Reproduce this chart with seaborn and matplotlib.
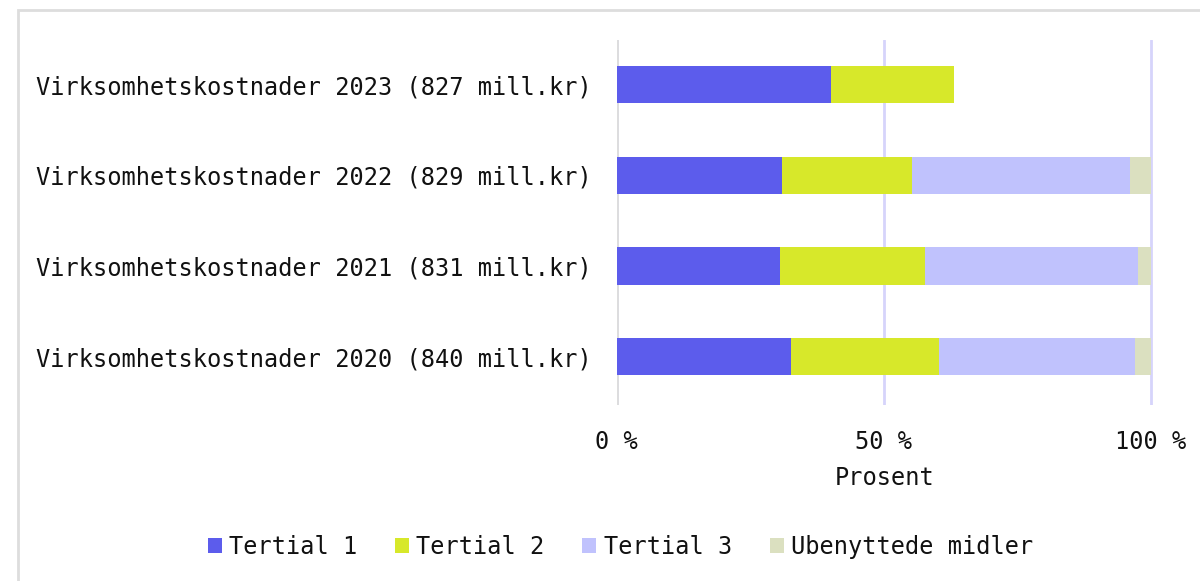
import numpy as np
import pandas as pd
import matplotlib
matplotlib.use("Agg")
import matplotlib.pyplot as plt
from matplotlib.patches import Patch, Rectangle
import seaborn as sns

# Data (percent of yearly budget)
categories = [
    "Virksomhetskostnader 2023 (827 mill.kr)",
    "Virksomhetskostnader 2022 (829 mill.kr)",
    "Virksomhetskostnader 2021 (831 mill.kr)",
    "Virksomhetskostnader 2020 (840 mill.kr)",
]
series_names = ["Tertial 1", "Tertial 2", "Tertial 3", "Ubenyttede midler"]
tertial_1 = [40.2, 31.0, 30.6, 32.6]
tertial_2 = [22.9, 24.3, 27.2, 27.7]
tertial_3 = [0.0, 40.9, 39.9, 36.7]
ubenyttet = [0.0, 3.8, 2.3, 3.0]
x_ticks = [0, 50, 100]
x_tick_labels = ["0 %", "50 %", "100 %"]

colors = ["#5c5cec", "#d7e82a", "#c0c2fd", "#dbe0c0"]

df = pd.DataFrame({
    "kategori": categories,
    "Tertial 1": tertial_1,
    "Tertial 2": tertial_2,
    "Tertial 3": tertial_3,
    "Ubenyttede midler": ubenyttet,
})
cum = df[series_names].cumsum(axis=1)

sns.set_style("white")
plt.rcParams["font.family"] = ["DejaVu Sans Mono", "DejaVu Sans"]
plt.rcParams["text.color"] = "#111111"
plt.rcParams["xtick.color"] = "#111111"
plt.rcParams["ytick.color"] = "#111111"
plt.rcParams["axes.labelcolor"] = "#111111"

fig = plt.figure(figsize=(12, 5.81), dpi=100)
ax = fig.add_axes([0.514, 0.303, 0.447, 0.628])

# stacked bars: draw cumulative totals from the last series to the first
for name, color in reversed(list(zip(series_names, colors))):
    sns.barplot(x=cum[name], y=df["kategori"], orient="h", color=color,
                width=0.41, ax=ax, zorder=3, saturation=1,
                edgecolor="none", linewidth=0)

ax.set_xlim(0, 100.5)
ax.set_ylim(3.53, -0.49)
ax.set_xticks(x_ticks)
ax.set_xticklabels(x_tick_labels)
ax.xaxis.grid(True, color="#d6d4fb", linewidth=2)
ax.axvline(0, color="#dddddd", linewidth=2, zorder=2)
ax.set_axisbelow(True)
for s in ax.spines.values():
    s.set_visible(False)
ax.tick_params(axis="x", length=0, pad=18, labelsize=17)
ax.tick_params(axis="y", length=0, pad=18, labelsize=17)
ax.set_ylabel("")
ax.set_xlabel("Prosent", fontsize=17, labelpad=9)

handles = [Patch(facecolor=c, edgecolor="none") for c in colors]
fig.legend(handles, series_names, loc="center", bbox_to_anchor=(0.517, 0.059),
           ncol=4, frameon=False, fontsize=17, handlelength=0.6,
           handleheight=0.6, handletextpad=0.3, columnspacing=1.6)

# light frame around the chart area
fig.patches.append(Rectangle((18 / 1200, -0.2), 1.2, 1.2 - 10 / 581,
                             transform=fig.transFigure, fill=False,
                             edgecolor="#dddddd", linewidth=2))

plt.savefig("out.png", dpi=100)
plt.close()
